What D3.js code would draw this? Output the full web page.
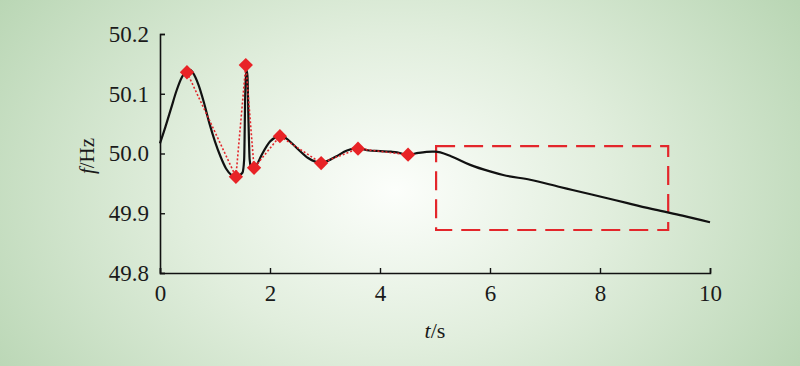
<!DOCTYPE html>
<html><head><meta charset="utf-8">
<script src="https://cdn.jsdelivr.net/npm/d3@7"></script>
<style>html,body{margin:0;padding:0;}svg{display:block;}</style>
</head><body>
<svg id="c" width="800" height="366"></svg>
<script>
// Continuous frequency response (black line)
const curveT = [0,0.1,0.2,0.3,0.4,0.5,0.55,0.6,0.7,0.8,0.9,1.0,1.1,1.2,1.3,1.38,1.45,1.5,1.53,1.55,1.57,1.59,1.61,1.63,1.66,1.75,1.85,2.0,2.15,2.2,2.3,2.5,2.7,2.9,3.0,3.2,3.4,3.6,3.8,4.0,4.2,4.31,4.5,4.7,4.95,5.0,5.3,5.64,6.0,6.24,6.73,7.27,7.5,8.0,8.5,9.0,9.5,10];
const curveF = [50.017,50.045,50.075,50.105,50.128,50.139,50.140,50.135,50.115,50.085,50.05,50.02,49.995,49.975,49.964,49.961,49.964,49.968,49.99,50.10,50.14,50.13,50.05,49.99,49.975,49.98,49.998,50.02,50.029,50.030,50.025,50.008,49.992,49.985,49.986,49.995,50.005,50.009,50.005,50.004,50.003,50.002,49.998,50.001,50.003,50.003,49.995,49.981,49.970,49.964,49.956,49.944,49.939,49.928,49.917,49.906,49.896,49.885];
// Sampled extreme points (red diamonds)
const markT = [0.49,1.38,1.56,1.71,2.18,2.93,3.6,4.51];
const markF = [50.136,49.961,50.148,49.976,50.029,49.984,50.008,49.998];
// Highlight box
const boxT = [5.02,9.24];
const boxF = [49.872,50.0125];
const xTicks = [0,2,4,6,8,10];
const yTicks = [49.8,49.9,50.0,50.1,50.2];
const yTickLabels = ["49.8","49.9","50.0","50.1","50.2"];

const svg = d3.select("#c");
const defs = svg.append("defs");
const g = defs.append("radialGradient").attr("id","bg")
  .attr("gradientUnits","userSpaceOnUse").attr("cx",395).attr("cy",190).attr("r",480)
  .attr("gradientTransform","translate(395,190) scale(1,0.72) translate(-395,-190)");
g.append("stop").attr("offset","0%").attr("stop-color","#fcfefb");
g.append("stop").attr("offset","45%").attr("stop-color","#e1eedd");
g.append("stop").attr("offset","100%").attr("stop-color","#b9d6b4");
svg.append("rect").attr("width",800).attr("height",366).attr("fill","url(#bg)");

const x = d3.scaleLinear().domain([0,10]).range([160,710]);
const y = d3.scaleLinear().domain([49.8,50.2]).range([273,34]);

const font = "\"Liberation Serif\", \"Times New Roman\", serif";

// axes
const xAxis = d3.axisBottom(x).tickValues(xTicks).tickSize(-5).tickSizeOuter(-5).tickFormat(d3.format("d")).tickPadding(12);
const gx = svg.append("g").attr("transform","translate(0,273)").call(xAxis);
const yAxis = d3.axisLeft(y).tickValues(yTicks).tickSize(-5).tickSizeOuter(-5).tickFormat((d,i)=>yTickLabels[i]).tickPadding(11);
const gy = svg.append("g").attr("transform","translate(160,0)").call(yAxis);
[gx,gy].forEach(a=>{
  a.attr("font-family",null);
  a.select(".domain").attr("stroke","#111").attr("stroke-width",1.6);
  a.selectAll(".tick line").attr("stroke","#111").attr("stroke-width",1.4);
  a.selectAll("text").style("font-family",font).attr("font-size",23).attr("fill","#1a1a1a");
});

// axis titles
const tx = svg.append("text").attr("x",435).attr("y",338).attr("text-anchor","middle")
  .style("font-family",font).attr("font-size",22).attr("fill","#1a1a1a");
tx.append("tspan").attr("font-style","italic").text("t");
tx.append("tspan").text("/s");
const ty = svg.append("text").attr("transform","translate(94,156) rotate(-90)").attr("text-anchor","middle")
  .style("font-family",font).attr("font-size",21).attr("fill","#1a1a1a");
ty.append("tspan").attr("font-style","italic").text("f");
ty.append("tspan").text("/Hz");

// dashed box
svg.append("rect")
  .attr("x",x(boxT[0])).attr("y",y(boxF[1]))
  .attr("width",x(boxT[1])-x(boxT[0])).attr("height",y(boxF[0])-y(boxF[1]))
  .attr("fill","none").attr("stroke","#e3262b").attr("stroke-width",2.2)
  .attr("stroke-dasharray","19,9");

// black curve
const curveData = curveT.map((t,i)=>[t,curveF[i]]);
svg.append("path").datum(curveData)
  .attr("d",d3.line().x(d=>x(d[0])).y(d=>y(d[1])).curve(d3.curveMonotoneX))
  .attr("fill","none").attr("stroke","#111").attr("stroke-width",2.2);

// red dotted line
const markData = markT.map((t,i)=>[t,markF[i]]);
svg.append("path").datum(markData)
  .attr("d",d3.line().x(d=>x(d[0])).y(d=>y(d[1])))
  .attr("fill","none").attr("stroke","#e3262b").attr("stroke-width",1.6)
  .attr("stroke-dasharray","2,2");

// diamonds
svg.selectAll("path.mk").data(markData).join("path").attr("class","mk")
  .attr("d",d3.symbol().type(d3.symbolDiamond2).size(130))
  .attr("transform",d=>`translate(${x(d[0])},${y(d[1])})`)
  .attr("fill","#e82326");
</script>
</body></html>
